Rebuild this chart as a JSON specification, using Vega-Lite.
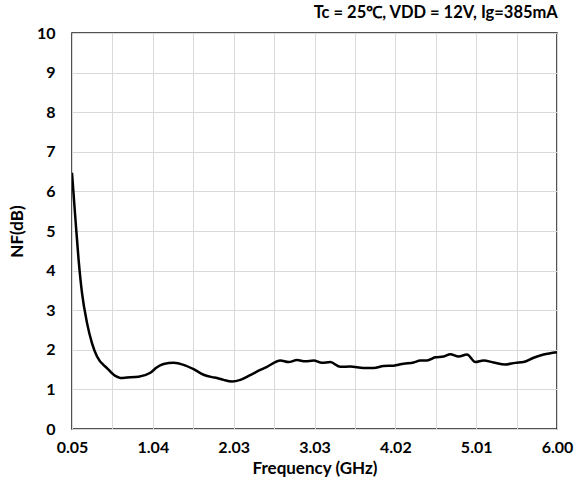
{
  "$schema": "https://vega.github.io/schema/vega-lite/v6.json",
  "width": 485,
  "height": 396,
  "autosize": "none",
  "padding": {"left": 72, "top": 33, "right": 21, "bottom": 54},
  "background": "white",
  "title": {
    "text": "Tc = 25℃, VDD = 12V, Ig=385mA",
    "anchor": "end",
    "font": "Lato",
    "fontSize": 16.5,
    "fontWeight": "bold",
    "color": "#000",
    "offset": 4,
    "dx": -15
  },
  "config": {
    "view": {"stroke": "#1a1a1a", "strokeWidth": 1.5},
    "axis": {
      "labelFont": "Lato",
      "titleFont": "Lato",
      "labelFontWeight": "bold",
      "titleFontWeight": "bold",
      "labelColor": "#000",
      "titleColor": "#000",
      "gridColor": "#d9d9d9",
      "gridWidth": 1,
      "ticks": false,
      "domain": false
    }
  },
  "data": {
    "values": [
      {"f": 0.05, "nf": 6.47},
      {"f": 0.09, "nf": 5.36},
      {"f": 0.131, "nf": 4.27},
      {"f": 0.173, "nf": 3.43},
      {"f": 0.234, "nf": 2.68},
      {"f": 0.295, "nf": 2.17},
      {"f": 0.357, "nf": 1.83},
      {"f": 0.479, "nf": 1.54},
      {"f": 0.581, "nf": 1.34},
      {"f": 0.643, "nf": 1.29},
      {"f": 0.725, "nf": 1.3},
      {"f": 0.867, "nf": 1.32},
      {"f": 1.011, "nf": 1.42},
      {"f": 1.093, "nf": 1.56},
      {"f": 1.174, "nf": 1.64},
      {"f": 1.296, "nf": 1.67},
      {"f": 1.419, "nf": 1.62},
      {"f": 1.542, "nf": 1.51},
      {"f": 1.664, "nf": 1.37},
      {"f": 1.768, "nf": 1.31},
      {"f": 1.829, "nf": 1.29},
      {"f": 1.91, "nf": 1.24},
      {"f": 2.013, "nf": 1.2},
      {"f": 2.115, "nf": 1.24},
      {"f": 2.237, "nf": 1.36},
      {"f": 2.36, "nf": 1.49},
      {"f": 2.442, "nf": 1.57},
      {"f": 2.606, "nf": 1.73},
      {"f": 2.707, "nf": 1.69},
      {"f": 2.81, "nf": 1.74},
      {"f": 2.912, "nf": 1.71},
      {"f": 3.014, "nf": 1.73},
      {"f": 3.117, "nf": 1.67},
      {"f": 3.219, "nf": 1.69},
      {"f": 3.342, "nf": 1.57},
      {"f": 3.464, "nf": 1.58},
      {"f": 3.627, "nf": 1.54},
      {"f": 3.75, "nf": 1.54},
      {"f": 3.873, "nf": 1.59},
      {"f": 3.995, "nf": 1.6},
      {"f": 4.118, "nf": 1.65},
      {"f": 4.241, "nf": 1.68},
      {"f": 4.323, "nf": 1.73},
      {"f": 4.405, "nf": 1.73},
      {"f": 4.507, "nf": 1.81},
      {"f": 4.609, "nf": 1.83},
      {"f": 4.691, "nf": 1.89},
      {"f": 4.793, "nf": 1.83},
      {"f": 4.896, "nf": 1.88},
      {"f": 4.998, "nf": 1.69},
      {"f": 5.099, "nf": 1.73},
      {"f": 5.222, "nf": 1.68},
      {"f": 5.366, "nf": 1.63},
      {"f": 5.489, "nf": 1.67},
      {"f": 5.59, "nf": 1.69},
      {"f": 5.713, "nf": 1.8},
      {"f": 5.836, "nf": 1.88},
      {"f": 6.0, "nf": 1.94}
    ]
  },
  "mark": {"type": "line", "color": "#000", "strokeWidth": 2.5, "interpolate": "monotone", "clip": true},
  "encoding": {
    "x": {
      "field": "f",
      "type": "quantitative",
      "scale": {"domain": [0.05, 6.0], "nice": false, "zero": false},
      "axis": {
        "title": "Frequency (GHz)",
        "values": [0.05, 0.545833, 1.041667, 1.5375, 2.033333, 2.529167, 3.0250001, 3.520833, 4.016667, 4.5125, 5.008333, 5.504167, 6.0],
        "labelExpr": "round((datum.value-0.05)/0.4958333)%2==0 ? format(datum.value,'.2f') : ''",
        "labelFontSize": 16,
        "titleFontSize": 17,
        "labelPadding": 10,
        "titlePadding": 5,
        "labelFlush": false,
        "labelOverlap": false
      }
    },
    "y": {
      "field": "nf",
      "type": "quantitative",
      "scale": {"domain": [0, 10], "nice": false},
      "axis": {
        "title": "NF(dB)",
        "values": [0, 1, 2, 3, 4, 5, 6, 7, 8, 9, 10],
        "labelFontSize": 16,
        "titleFontSize": 17,
        "labelPadding": 17,
        "titlePadding": 10
      }
    }
  }
}
